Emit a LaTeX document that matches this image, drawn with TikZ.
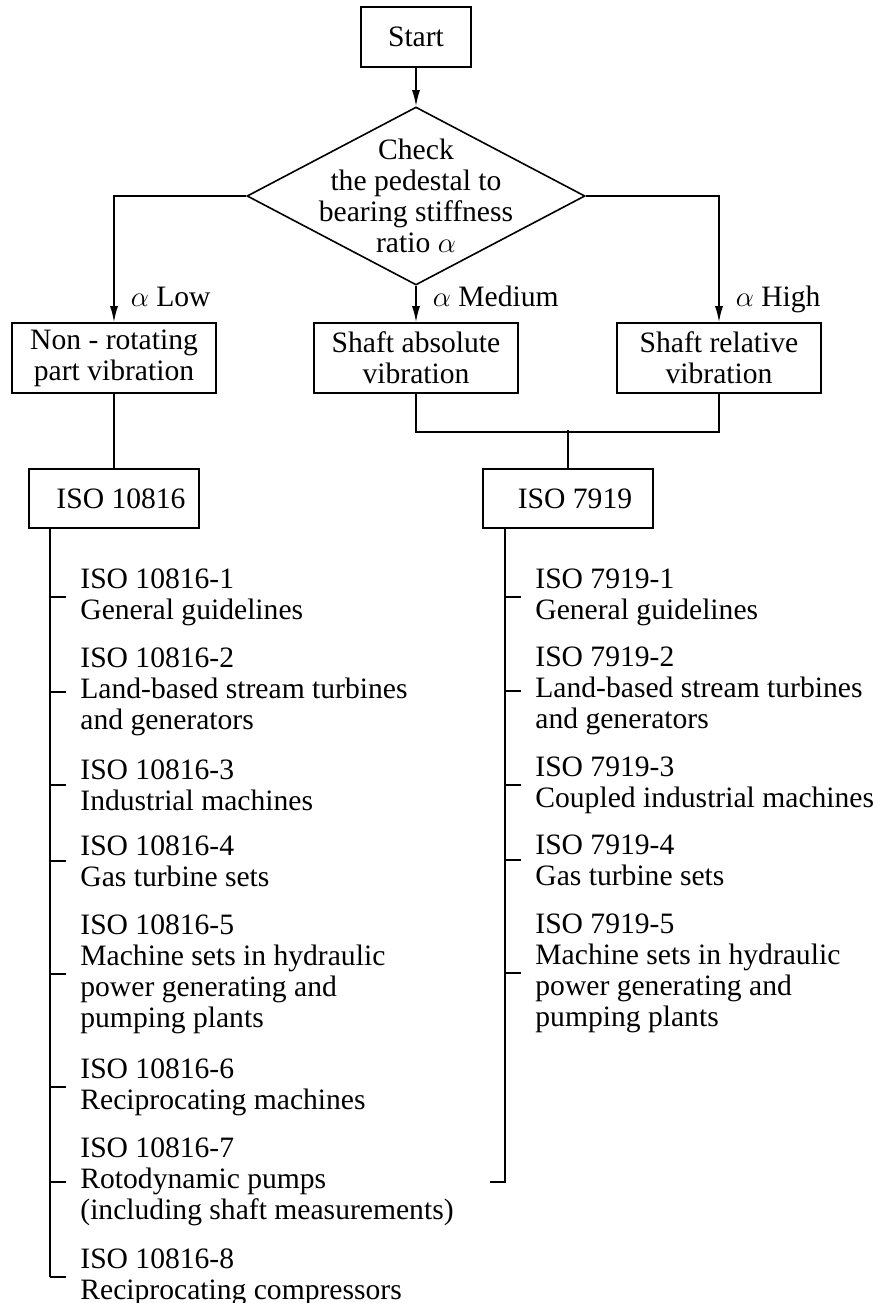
\documentclass[tikz,border=0pt]{standalone}
\usepackage{fontspec}
\setmainfont{Liberation Serif}
\usetikzlibrary{shapes.geometric,arrows.meta}

\begin{document}
\begin{tikzpicture}[x=0.5pt,y=-0.5pt,
  every node/.style={font=\fontsize{14.8pt}{15.5pt}\selectfont},
  box/.style={draw,line width=0.8pt,minimum width=102pt,minimum height=35pt,inner sep=0pt,align=center},
  decision/.style={draw,diamond,line width=0.8pt,minimum width=169pt,minimum height=89pt,inner sep=0pt},
  item/.style={anchor=west,align=left,inner xsep=7pt,inner ysep=0pt},
  lbl/.style={anchor=west,inner sep=0pt,text height=10pt,text depth=3.3pt},
  line/.style={line width=0.8pt},
  arr/.style={line width=0.8pt,-{Latex[length=8pt,width=4pt]}}]
\useasboundingbox (0,0) rectangle (876,1303);
\node[box,minimum width=55pt,minimum height=30pt] (start) at (416,37) {Start};
\node[decision,label={[align=center]center:Check\\the pedestal to\\bearing stiffness\\ratio $\alpha$}] (check) at (416,196) {};
\node[box] (nonrot) at (114,358) {Non - rotating\\part vibration};
\node[box] (absvib) at (416,358) {Shaft absolute\\vibration};
\node[box] (relvib) at (719,358) {Shaft relative\\vibration};
\node[box,minimum width=85pt,minimum height=29.5pt] (iso108) at (114,498.5) {\hspace{7pt}ISO 10816};
\node[box,minimum width=85pt,minimum height=29.5pt] (iso79) at (568,498.5) {\hspace{7pt}ISO 7919};

\draw[arr] (start) -- (check);
\draw[arr] (check.west) -| node[lbl,pos=0.91,xshift=8pt]{$\alpha$ Low} (nonrot.north);
\draw[arr] (check.south) -- node[lbl,pos=0.39,xshift=8pt]{$\alpha$ Medium} (absvib.north);
\draw[arr] (check.east) -| node[lbl,pos=0.91,xshift=8pt]{$\alpha$ High} (relvib.north);
\draw[line] (nonrot.south) -- (iso108.north);
\draw[line] (absvib.south) -- ++(0,38) -| (relvib.south);
\draw[line] (iso79.north) -- ++(0,-38);

\node[item] (l1) at (66,597) {ISO 10816-1\\General guidelines};
\node[item] (l2) at (66,692) {ISO 10816-2\\Land-based stream turbines\\and generators};
\node[item] (l3) at (66,785) {ISO 10816-3\\Industrial machines};
\node[item] (l4) at (66,861) {ISO 10816-4\\Gas turbine sets};
\node[item] (l5) at (66,974) {ISO 10816-5\\Machine sets in hydraulic\\power generating and\\pumping plants};
\node[item] (l6) at (66,1087) {ISO 10816-6\\Reciprocating machines};
\node[item] (l7) at (66,1182) {ISO 10816-7\\Rotodynamic pumps\\(including shaft measurements)};
\node[item] (l8) at (66,1277) {ISO 10816-8\\Reciprocating compressors};

\node[item] (r1) at (521,597) {ISO 7919-1\\General guidelines};
\node[item] (r2) at (521,691) {ISO 7919-2\\Land-based stream turbines\\and generators};
\node[item] (r3) at (521,785) {ISO 7919-3\\Coupled industrial machines};
\node[item] (r4) at (521,860) {ISO 7919-4\\Gas turbine sets};
\node[item] (r5) at (521,973) {ISO 7919-5\\Machine sets in hydraulic\\power generating and\\pumping plants};

\coordinate (spineL) at ([xshift=11pt]iso108.south west);
\coordinate (spineR) at ([xshift=11.5pt]iso79.south west);
\coordinate (endR) at (spineR |- l7.west);
\draw[line] (spineL) -- (spineL |- l8.west);
\foreach \i in {1,...,8} \draw[line] (spineL |- l\i.west) -- (l\i.west);
\draw[line] (spineR) -- (endR) -- ++(-15,0);
\foreach \i in {1,...,5} \draw[line] (spineR |- r\i.west) -- (r\i.west);
\end{tikzpicture}
\end{document}
